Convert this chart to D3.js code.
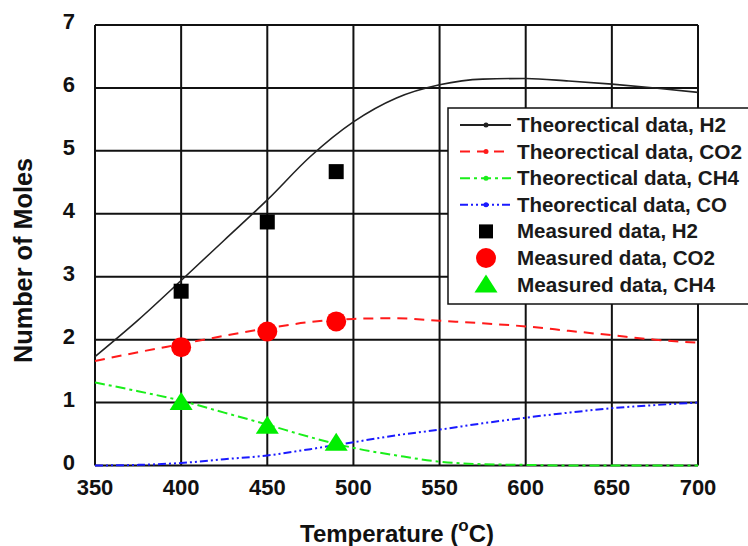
<!DOCTYPE html>
<html><head><meta charset="utf-8">
<script src="https://cdn.jsdelivr.net/npm/d3@7"></script>
<style>body{margin:0;background:#fff}text{font-family:"Liberation Sans",Arial,sans-serif}</style>
</head><body><svg id="c" width="748" height="546"></svg>
<script>
const temps = [350,375,400,425,450,475,500,525,550,575,600,625,650,675,700];
const thH2  = [1.73,2.31,2.94,3.58,4.22,4.91,5.46,5.84,6.05,6.14,6.15,6.11,6.06,6.00,5.93];
const thCO2 = [1.66,1.80,1.93,2.06,2.18,2.28,2.33,2.34,2.30,2.26,2.21,2.14,2.07,2.00,1.95];
const thCH4 = [1.32,1.18,1.03,0.84,0.65,0.45,0.28,0.16,0.06,0.02,0.01,0,0,0,0];
const thCO  = [0,0.01,0.04,0.10,0.16,0.26,0.37,0.48,0.57,0.67,0.76,0.84,0.91,0.96,1.00];
const measT   = [400,450,490];
const measH2  = [2.77,3.87,4.67];
const measCO2 = [1.88,2.13,2.29];
const measCH4 = [1.01,0.63,0.36];
const xTicks = [350,400,450,500,550,600,650,700];
const yTicks = [0,1,2,3,4,5,6,7];
const legendLabels = ["Theorectical data, H2","Theorectical data, CO2","Theorectical data, CH4","Theorectical data, CO","Measured data, H2","Measured data, CO2","Measured data, CH4"];

const svg = d3.select("#c");
const x = d3.scaleLinear().domain([350,700]).range([95,698]);
const y = d3.scaleLinear().domain([0,7]).range([465.5,25]);

// grid
const g = svg.append("g");
g.selectAll(".vx").data(xTicks).join("line")
  .attr("x1",d=>x(d)).attr("x2",d=>x(d)).attr("y1",y(0)).attr("y2",y(7))
  .attr("stroke","#111").attr("stroke-width",2);
g.selectAll(".hy").data(yTicks).join("line")
  .attr("y1",d=>y(d)).attr("y2",d=>y(d)).attr("x1",x(350)).attr("x2",x(700))
  .attr("stroke","#111").attr("stroke-width",2);

// tick labels
svg.selectAll(".xt").data(xTicks).join("text")
  .attr("x",d=>x(d)).attr("y",495).attr("text-anchor","middle")
  .attr("font-size",22).attr("font-weight","bold").attr("fill","#111").text(d=>d);
svg.selectAll(".yt").data(yTicks).join("text")
  .attr("x",75).attr("y",d=>y(d)+4).attr("text-anchor","end")
  .attr("font-size",22).attr("font-weight","bold").attr("fill","#111").text(d=>d);

// axis titles
svg.append("text").attr("transform","translate(32,260.5) rotate(-90)")
  .attr("text-anchor","middle").attr("font-size",25).attr("font-weight","bold").attr("fill","#111")
  .attr("textLength",205).attr("lengthAdjust","spacingAndGlyphs").text("Number of Moles");
const xt = svg.append("text").attr("x",397).attr("y",542).attr("text-anchor","middle")
  .attr("font-size",24).attr("font-weight","bold").attr("fill","#111");
xt.append("tspan").text("Temperature (");
xt.append("tspan").attr("font-size",17).attr("dy",-11).text("o");
xt.append("tspan").attr("dy",11).text("C)");

// theoretical lines
const series = [
  {v:thH2, color:"#222", dash:null, w:1.6},
  {v:thCO2, color:"#ff1a1a", dash:"10,7", w:2},
  {v:thCH4, color:"#1aee1a", dash:"10,4,3,4", w:2},
  {v:thCO, color:"#1a1aff", dash:"8,3,2,3,2,3", w:2}
];
const line = d3.line().curve(d3.curveMonotoneX);
series.forEach(s=>{
  svg.append("path").attr("d", line(temps.map((t,i)=>[x(t), y(s.v[i])])))
    .attr("fill","none").attr("stroke",s.color).attr("stroke-width",s.w)
    .attr("stroke-dasharray",s.dash);
});

// measured markers
svg.selectAll(".mh2").data(measT).join("rect")
  .attr("x",(d)=>x(d)-7.5).attr("y",(d,i)=>y(measH2[i])-7.5).attr("width",15).attr("height",15).attr("fill","#000");
svg.selectAll(".mco2").data(measT).join("circle")
  .attr("cx",d=>x(d)).attr("cy",(d,i)=>y(measCO2[i])).attr("r",10).attr("fill","#ff0000");
const tri = (cx,cy)=>`M${cx},${cy-10}L${cx+11.5},${cy+8}L${cx-11.5},${cy+8}Z`;
svg.selectAll(".mch4").data(measT).join("path")
  .attr("d",(d,i)=>tri(x(d),y(measCH4[i]))).attr("fill","#00ee00");

// legend
const lg = svg.append("g");
lg.append("rect").attr("x",448).attr("y",108).attr("width",330).attr("height",196)
  .attr("fill","#fff").attr("stroke","#111").attr("stroke-width",1.5);
const rowY = i => 125 + i*26.6;
const widths = [209,225,222,210,181,198,198];
series.forEach((s,i)=>{
  lg.append("line").attr("x1",460).attr("x2",511).attr("y1",rowY(i)).attr("y2",rowY(i))
    .attr("stroke",s.color).attr("stroke-width",2).attr("stroke-dasharray",s.dash);
  lg.append("circle").attr("cx",486).attr("cy",rowY(i)).attr("r",2.5).attr("fill",s.color);
});
lg.append("rect").attr("x",479).attr("y",rowY(4)-7).attr("width",14).attr("height",14).attr("fill","#000");
lg.append("circle").attr("cx",486).attr("cy",rowY(5)).attr("r",10).attr("fill","#ff0000");
lg.append("path").attr("d",tri(486,rowY(6))).attr("fill","#00ee00");
legendLabels.forEach((t,i)=>{
  lg.append("text").attr("x",517).attr("y",rowY(i)+7).attr("font-size",20).attr("font-weight","bold")
    .attr("fill","#1a1a1a").attr("textLength",widths[i]).attr("lengthAdjust","spacingAndGlyphs").text(t);
});
</script></body></html>
